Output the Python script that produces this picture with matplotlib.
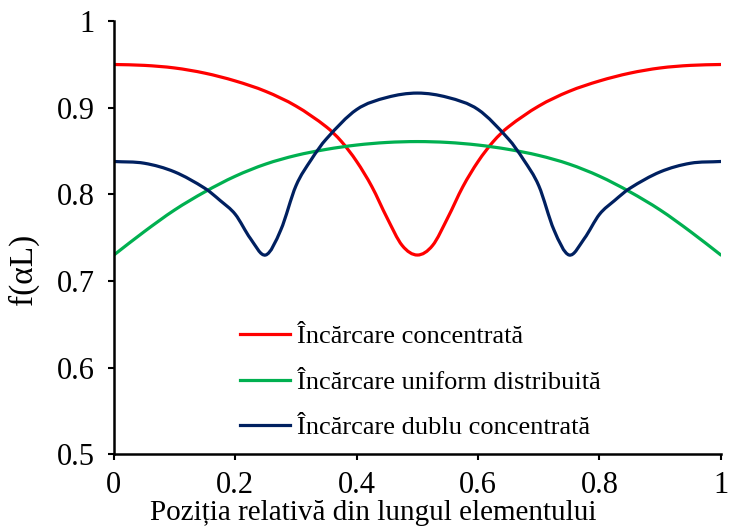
import numpy as np
import matplotlib
matplotlib.use("Agg")
import matplotlib.pyplot as plt
from matplotlib.path import Path
from matplotlib.patches import PathPatch
from matplotlib.lines import Line2D

# values, relative position along the element
x_conc = [0.0, 0.05, 0.1, 0.15, 0.2, 0.25, 0.3, 0.35, 0.375, 0.4, 0.425, 0.45, 0.475, 0.5,
          0.525, 0.55, 0.575, 0.6, 0.625, 0.65, 0.7, 0.75, 0.8, 0.85, 0.9, 0.95, 1.0]
concentrata = [0.950, 0.949, 0.946, 0.940, 0.931, 0.919, 0.902, 0.878, 0.861, 0.838, 0.809, 0.773, 0.741, 0.730,
               0.741, 0.773, 0.809, 0.838, 0.861, 0.878, 0.902, 0.919, 0.931, 0.940, 0.946, 0.949, 0.950]

x_unif = [0.0, 0.05, 0.1, 0.15, 0.2, 0.25, 0.3, 0.35, 0.4, 0.45, 0.5,
          0.55, 0.6, 0.65, 0.7, 0.75, 0.8, 0.85, 0.9, 0.95, 1.0]
uniform = [0.730, 0.757, 0.782, 0.803, 0.821, 0.835, 0.845, 0.852, 0.857, 0.860, 0.861,
           0.860, 0.857, 0.852, 0.845, 0.835, 0.821, 0.803, 0.782, 0.757, 0.730]

x_dublu = [0.0, 0.05, 0.1, 0.15, 0.175, 0.2, 0.225, 0.25, 0.275, 0.3, 0.325, 0.35, 0.4, 0.45, 0.5,
           0.55, 0.6, 0.65, 0.675, 0.7, 0.725, 0.75, 0.775, 0.8, 0.825, 0.85, 0.9, 0.95, 1.0]
dublu = [0.838, 0.836, 0.826, 0.807, 0.793, 0.777, 0.749, 0.730, 0.759, 0.810, 0.840, 0.864, 0.898, 0.912, 0.917,
         0.912, 0.898, 0.864, 0.840, 0.810, 0.759, 0.730, 0.749, 0.777, 0.793, 0.807, 0.826, 0.836, 0.838]

labels = ["Încărcare concentrată",
          "Încărcare uniform distribuită",
          "Încărcare dublu concentrată"]
colors = ["#FF0000", "#00B050", "#002060"]


def smooth_path(x, y):
    # smoothed line like excel: cubic hermite pieces with neighbour tangents
    x = np.asarray(x, float)
    y = np.asarray(y, float)
    n = len(x)
    m = np.zeros(n)
    m[1:-1] = (y[2:] - y[:-2]) / (x[2:] - x[:-2])
    m[0] = (y[1] - y[0]) / (x[1] - x[0])
    m[-1] = (y[-1] - y[-2]) / (x[-1] - x[-2])
    verts = [(x[0], y[0])]
    codes = [Path.MOVETO]
    for i in range(n - 1):
        h = x[i + 1] - x[i]
        verts += [(x[i] + h / 3, y[i] + m[i] * h / 3),
                  (x[i + 1] - h / 3, y[i + 1] - m[i + 1] * h / 3),
                  (x[i + 1], y[i + 1])]
        codes += [Path.CURVE4] * 3
    return Path(verts, codes)


plt.rcParams['font.family'] = ['Liberation Serif', 'DejaVu Serif']
fig = plt.figure(figsize=(7.3, 5.3), dpi=100)
ax = fig.add_axes([0.156, 0.143, 0.8315, 0.817])

handles = []
series = [(x_conc, concentrata), (x_unif, uniform), (x_dublu, dublu)]
for (xs, ys), c, lab in zip(series, colors, labels):
    patch = PathPatch(smooth_path(xs, ys), facecolor='none', edgecolor=c,
                      lw=2.3, capstyle='round', joinstyle='round')
    ax.add_patch(patch)
    handles.append(Line2D([], [], color=c, lw=2.3, label=lab))

ax.set_xlim(0, 1)
ax.set_ylim(0.5, 1)
ax.set_xticks([0, 0.2, 0.4, 0.6, 0.8, 1])
ax.set_xticklabels(["0", "0.2", "0.4", "0.6", "0.8", "1"])
ax.set_yticks([0.5, 0.6, 0.7, 0.8, 0.9, 1])
ax.set_yticklabels(["0.5", "0.6", "0.7", "0.8", "0.9", "1"])
ax.tick_params(labelsize=22, width=1.5, length=4.5, direction='out', pad=9.5)
ax.tick_params(axis='x', pad=7.5)
for s in ["top", "right"]:
    ax.spines[s].set_visible(False)
for s in ["left", "bottom"]:
    ax.spines[s].set_linewidth(1.8)

ax.set_xlabel("Poziția relativă din lungul elementului", fontsize=21)
ax.xaxis.set_label_coords(0.428, -0.106)
ax.set_ylabel("f(αL)", fontsize=24)
ax.yaxis.set_label_coords(-0.123, 0.428)

ax.legend(handles=handles, loc='upper left', bbox_to_anchor=(0.208, 0.299),
          frameon=False, fontsize=19, handlelength=1.9, handletextpad=0.27,
          labelspacing=0.84, borderaxespad=0, borderpad=0)

fig.savefig("out.png", dpi=100)
